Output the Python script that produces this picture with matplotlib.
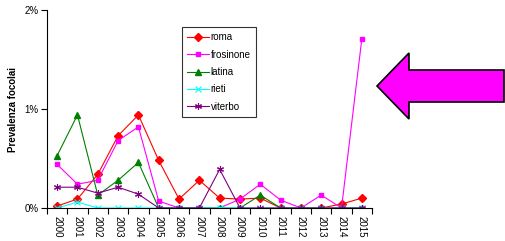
import matplotlib
matplotlib.use("Agg")
import matplotlib.pyplot as plt
from matplotlib.patches import Polygon
from matplotlib.ticker import FixedLocator, PercentFormatter

plt.rcParams['font.family'] = ['Liberation Sans', 'DejaVu Sans']

years = [str(y) for y in range(2000, 2016)]
roma = [0.02, 0.09, 0.34, 0.73, 0.94, 0.48, 0.09, 0.28, 0.10, 0.09, 0.10, 0.0, 0.0, 0.0, 0.04, 0.10]
frosinone = [0.44, 0.24, 0.28, 0.68, 0.82, 0.07, 0.0, 0.0, 0.0, 0.09, 0.24, 0.08, 0.0, 0.13, 0.0, 1.71]
latina = [0.53, 0.94, 0.13, 0.28, 0.46, 0.0, 0.0, 0.0, 0.0, 0.0, 0.13, 0.0, 0.0, 0.0, 0.0, 0.0]
rieti = [0.0, 0.06, 0.0, 0.0, 0.0, 0.0, 0.0, 0.0, 0.0, 0.0, 0.0, 0.0, 0.0, 0.0, 0.0, 0.0]
viterbo = [0.21, 0.21, 0.15, 0.21, 0.14, 0.0, 0.0, 0.0, 0.39, 0.0, 0.0, 0.0, 0.0, 0.0, 0.0, 0.0]

W, H = 505, 241
fig = plt.figure(figsize=(W / 100, H / 100), dpi=100)
ax = fig.add_axes([47 / W, 1 - 208 / H, (372 - 47) / W, 198 / H])

x = range(len(years))
ax.plot(x, roma, color='red', marker='D', ms=4.5, lw=0.8, label='roma')
ax.plot(x, frosinone, color='magenta', marker='s', ms=3.5, lw=0.8, label='frosinone')
ax.plot(x, latina, color='green', marker='^', ms=4, lw=0.8, label='latina')
ax.plot(x, rieti, color='cyan', marker='x', ms=4, mew=0.8, lw=0.8, label='rieti')
ax.plot(x, viterbo, color='purple', marker=(6, 2, 0), ms=5, mew=0.8, lw=0.8, label='viterbo')

ax.set_xlim(-0.5, len(years) - 0.5)
ax.set_ylim(0, 2)
ax.set_yticks([0, 1, 2])
ax.yaxis.set_major_formatter(PercentFormatter(decimals=0))
ax.set_xticks(list(x))
ax.set_xticklabels(years, rotation=270)
ax.xaxis.set_minor_locator(FixedLocator([i - 0.5 for i in range(len(years) + 1)]))
ax.tick_params(axis='x', which='major', length=0, labelsize=7, pad=6)
ax.tick_params(axis='x', which='minor', length=4, width=0.8, direction='out')
ax.tick_params(axis='y', length=4, width=0.8, labelsize=7, pad=2)
for s in ['top', 'right']:
    ax.spines[s].set_visible(False)
for s in ['left', 'bottom']:
    ax.spines[s].set_linewidth(0.8)

ax.set_ylabel('Prevalenza focolai', fontsize=7, fontweight='bold', labelpad=5)

leg = ax.legend(loc='upper left', bbox_to_anchor=((182 - 47) / 325, (208 - 27) / 198),
                fontsize=7, frameon=True, fancybox=False, edgecolor='black',
                handlelength=2.2, handletextpad=0.2, labelspacing=0.75,
                borderpad=0.55, borderaxespad=0)
leg.get_frame().set_linewidth(0.8)

pts = [(377, 86), (409, 53), (409, 70), (504, 70), (504, 102), (409, 102), (409, 119)]
arrow = Polygon([(px / W, 1 - py / H) for px, py in pts], closed=True,
                facecolor='magenta', edgecolor='black', lw=1.2, transform=fig.transFigure)
fig.patches.append(arrow)

fig.savefig('out.png', dpi=100)
